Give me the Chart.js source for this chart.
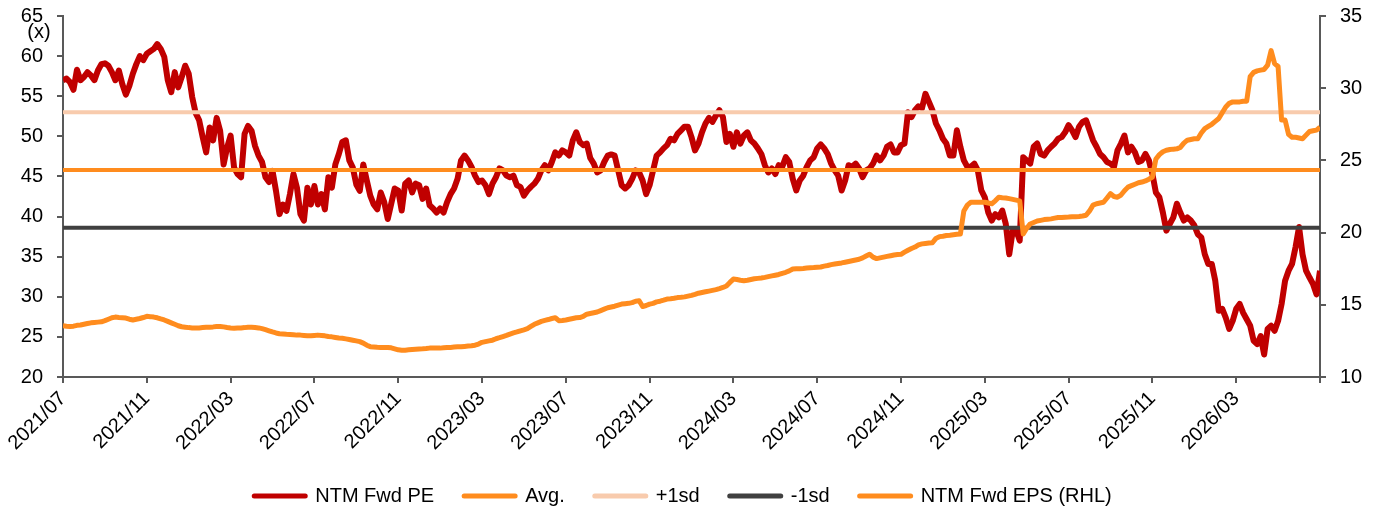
<!DOCTYPE html>
<html>
<head>
<meta charset="utf-8">
<script src="https://cdn.jsdelivr.net/npm/chart.js@4/dist/chart.umd.min.js"></script>
<style>
    html, body { margin: 0; padding: 0; background: #fff; }
    #contenedor { width: 1380px; height: 513px; position: relative; }
</style>
</head>
<body>
<div id="contenedor"><canvas id="grafico"></canvas></div>
<script>
// Eje X: meses desde 2021/07, una muestra cada 1/6 de mes
const etiquetasX = ['2021/07', '2021/11', '2022/03', '2022/07', '2022/11', '2023/03', '2023/07', '2023/11',
    '2024/03', '2024/07', '2024/11', '2025/03', '2025/07', '2025/11', '2026/03'];
const mesesTotales = 60;
const pasoMuestra = 1 / 6;

// NTM Fwd PE (eje izquierdo)
const pe = [
    57.0, 57.2, 56.75, 55.8, 58.3, 57.0, 57.4, 58.0, 57.6, 57.0,
    58.2, 59.0, 59.1, 58.8, 58.0, 57.0, 58.2, 56.5, 55.2, 56.3,
    57.8, 59.0, 60.0, 59.5, 60.3, 60.6, 60.9, 61.5, 60.9, 59.9,
    57.0, 55.5, 58.0, 56.1, 57.4, 58.8, 57.8, 54.9, 52.9, 52.0,
    49.9, 48.0, 51.1, 49.5, 52.3, 50.7, 46.5, 48.6, 50.1, 46.1,
    45.3, 44.9, 50.3, 51.3, 50.7, 48.8, 47.6, 46.8, 44.9, 44.3,
    45.7, 43.2, 40.3, 41.5, 40.7, 42.8, 45.3, 43.6, 40.3, 39.5,
    43.6, 41.5, 43.8, 41.5, 42.8, 40.9, 44.9, 43.6, 46.5, 47.8,
    49.3, 49.5, 47.0, 46.1, 44.0, 43.2, 46.5, 44.5, 42.6, 41.5,
    40.9,
    43.0, 41.8, 39.7, 41.6, 43.5, 43.25, 40.75, 44.1, 44.5, 43.0,
    44.1, 43.9, 42.2, 43.5, 41.4, 41.0, 40.5, 41.0, 40.5, 41.8,
    42.8, 43.5, 44.7, 47.0, 47.6, 47.0, 46.2, 45.1, 44.3, 44.5,
    43.9, 42.8, 44.1, 44.9, 46.0, 45.75, 45.1, 44.9, 45.1, 43.9,
    43.7, 42.6, 43.25, 43.7, 44.1, 44.7, 45.75, 46.4, 45.75, 46.8,
    48.0, 47.6, 48.25, 48.0, 47.6, 49.5, 50.5, 49.3, 48.9, 49.1,
    47.3, 46.6, 45.5, 45.75, 46.8, 47.6, 47.75, 47.6, 45.75, 43.9,
    43.5, 43.9, 44.7, 45.75, 45.5, 44.5, 42.8, 43.9, 45.75, 47.6,
    48.0, 48.5, 48.9, 49.7, 49.5, 50.3, 50.75, 51.2, 51.2, 49.9,
    48.25, 49.1, 50.5, 51.6, 52.3, 51.8, 52.6, 53.25, 52.4, 49.3,
    50.3, 48.7, 50.5, 49.1, 50.1, 50.5, 49.5, 49.1, 48.5, 47.8,
    46.4, 45.5, 46.0, 45.3, 46.4, 46.2, 47.4, 46.8, 44.7, 43.25,
    44.5, 45.1, 46.2, 47.0, 47.4, 48.5, 49.0, 48.5, 47.8, 46.6,
    45.75, 45.1, 43.25, 44.5, 46.4, 46.2, 46.6, 46.0, 44.9, 45.75,
    46.0, 46.6, 47.6, 47.0, 47.6, 48.7, 49.0, 48.0, 48.0, 48.9,
    49.1, 53.0, 52.4, 53.25, 53.75, 53.5, 55.3, 54.3, 53.25, 51.6,
    50.75, 49.7, 49.1, 47.6, 47.6, 50.75, 48.7, 47.0, 46.2, 46.2,
    46.6, 45.75, 43.25, 42.4, 40.5, 39.5, 40.3, 39.9, 40.75, 39.1,
    35.3, 38.25, 38.25, 37.0, 47.4, 47.0, 46.6, 48.7, 49.1, 47.8,
    47.6, 48.25, 48.7, 49.1, 49.7, 49.9, 50.5, 51.4, 50.75, 49.9,
    51.2, 51.8, 52.0, 50.75, 49.5, 48.7, 47.8, 47.4, 46.8, 46.6,
    46.2, 48.25, 49.1, 50.1, 48.0, 48.7, 48.0, 46.8, 47.0, 47.8,
    47.0, 45.3, 43.0, 42.4, 40.5, 38.25, 39.1, 39.9, 41.6, 40.5,
    39.5, 39.9, 39.5, 38.9, 37.8, 37.4, 35.3, 34.1, 34.1, 32.0,
    28.25, 28.5, 27.4, 26.0, 27.0, 28.5, 29.1, 28.0, 27.2, 26.4,
    24.5, 24.1, 25.1, 22.8, 26.0, 26.4, 25.75, 27.0, 29.1, 32.0,
    33.25, 34.1, 36.2, 38.7, 35.3, 33.25, 32.4, 31.6, 30.3, 33.25
];

// NTM Fwd EPS (eje derecho)
const eps = [
    13.55, 13.52, 13.5, 13.52, 13.58, 13.6, 13.65, 13.7, 13.75, 13.78,
    13.8, 13.82, 13.9, 14.0, 14.1, 14.15, 14.12, 14.1, 14.08, 14.0,
    13.95, 14.0, 14.05, 14.12, 14.2, 14.18, 14.15, 14.1, 14.02, 13.95,
    13.85, 13.75, 13.65, 13.55, 13.48, 13.45, 13.42, 13.4, 13.4, 13.4,
    13.42, 13.44, 13.45, 13.47, 13.5, 13.5, 13.47, 13.43, 13.4, 13.38,
    13.4, 13.4, 13.42, 13.45, 13.45, 13.43, 13.4, 13.35, 13.28, 13.2,
    13.12, 13.05, 13.0, 12.98, 12.96, 12.95, 12.93, 12.9, 12.9, 12.88,
    12.86, 12.85, 12.88, 12.9, 12.88, 12.85, 12.8, 12.78, 12.74, 12.7,
    12.68, 12.64, 12.6, 12.55, 12.5, 12.45, 12.35, 12.2, 12.1, 12.08,
    12.06, 12.05, 12.05, 12.05, 12.02, 11.95, 11.88, 11.85, 11.86, 11.88,
    11.9, 11.92, 11.94, 11.95, 11.97, 12.0, 12.0, 12.0, 12.0, 12.02,
    12.04, 12.05, 12.07, 12.09, 12.1, 12.12, 12.14, 12.16, 12.2, 12.28,
    12.4, 12.45, 12.5, 12.55, 12.65, 12.72, 12.8, 12.88, 12.97, 13.05,
    13.12, 13.2, 13.27, 13.35, 13.5, 13.65, 13.75, 13.85, 13.92, 13.98,
    14.05, 14.1, 13.9, 13.92, 13.95, 14.0, 14.05, 14.1, 14.12, 14.2,
    14.35, 14.4, 14.45, 14.5, 14.6, 14.7, 14.8, 14.85, 14.9, 14.98,
    15.05, 15.08, 15.1, 15.15, 15.25, 15.28, 14.88, 14.95, 15.05, 15.1,
    15.2, 15.25, 15.32, 15.4, 15.42, 15.45, 15.5, 15.52, 15.55, 15.6,
    15.65, 15.72, 15.8, 15.85, 15.9, 15.95, 16.0, 16.05, 16.12, 16.2,
    16.3, 16.55, 16.78, 16.75, 16.7, 16.67, 16.7, 16.75, 16.8, 16.83,
    16.86, 16.9, 16.95, 17.0, 17.05, 17.1, 17.18, 17.25, 17.35, 17.48,
    17.5, 17.5, 17.52, 17.55, 17.57, 17.58, 17.6, 17.62, 17.68, 17.72,
    17.78, 17.82, 17.86, 17.9, 17.95, 18.0, 18.05, 18.1, 18.15, 18.25,
    18.38, 18.5, 18.3, 18.2, 18.25, 18.3, 18.35, 18.4, 18.45, 18.48,
    18.5, 18.65, 18.78, 18.9, 19.0, 19.15, 19.22, 19.25, 19.28, 19.3,
    19.6, 19.72, 19.75, 19.8, 19.82, 19.85, 19.88, 19.9, 21.5, 21.9,
    22.1, 22.1, 22.1, 22.1, 22.1, 22.05, 22.0, 22.2, 22.45, 22.42,
    22.4, 22.35, 22.3, 22.25, 22.2, 19.9, 20.3, 20.6, 20.7, 20.8,
    20.85, 20.9, 20.93, 20.95, 21.0, 21.05, 21.05, 21.07, 21.08, 21.1,
    21.1, 21.12, 21.15, 21.2, 21.5, 21.9, 22.0, 22.05, 22.1, 22.4,
    22.7, 22.5, 22.45, 22.6, 22.9, 23.15, 23.25, 23.35, 23.45, 23.5,
    23.58, 23.7, 23.85, 25.1, 25.4, 25.6, 25.7, 25.75, 25.78, 25.8,
    25.9, 26.2, 26.4, 26.45, 26.5, 26.5, 26.9, 27.2, 27.35, 27.5,
    27.7, 27.9, 28.3, 28.7, 28.95, 29.05, 29.05, 29.05, 29.1, 29.1,
    30.8, 31.1, 31.2, 31.25, 31.3, 31.6, 32.6, 31.7, 31.5, 27.8,
    27.8, 26.8, 26.6, 26.6, 26.55, 26.5, 26.75, 27.0, 27.05, 27.1, 27.3
];

// Lineas de referencia del PE
const promedio = 45.8;
const masUnaSd = 53.0;
const menosUnaSd = 38.6;
const unidadEje = '(x)';

Chart.defaults.font.family = '"Liberation Sans", Arial, sans-serif';
Chart.defaults.font.size = 20;
Chart.defaults.color = '#000';

const aPuntos = serie => serie.map((v, i) => ({ x: i * pasoMuestra, y: v }));
const lineaPlana = v => [{ x: 0, y: v }, { x: mesesTotales, y: v }];

const colorEje = '#595959';

const ejeBase = {
    border: { color: colorEje, width: 2 },
    grid: { drawOnChartArea: false, drawTicks: true, tickLength: 6, color: colorEje, lineWidth: 2 }
};

// los ejes Y no reservan margen extra arriba/abajo para sus etiquetas
function ajustarEjeY(ancho) {
    return s => {
        s.width = ancho;
        s.paddingTop = 0;
        s.paddingBottom = 0;
    };
}

const pluginUnidad = {
    id: 'unidad',
    afterDraw(chart) {
        const c = chart.ctx;
        const area = chart.chartArea;
        c.save();
        c.font = '20px "Liberation Sans", Arial, sans-serif';
        c.fillStyle = '#000';
        c.textAlign = 'center';
        c.textBaseline = 'middle';
        c.fillText(unidadEje, area.left - 24, area.top + 16);
        c.restore();
    }
};

new Chart(document.getElementById('grafico'), {
    type: 'line',
    data: {
        datasets: [
            { label: 'NTM Fwd PE', data: aPuntos(pe), borderColor: '#C00000', borderWidth: 6, yAxisID: 'y', order: 5 },
            { label: 'Avg.', data: lineaPlana(promedio), borderColor: '#FF8C1E', borderWidth: 4, yAxisID: 'y', order: 4 },
            { label: '+1sd', data: lineaPlana(masUnaSd), borderColor: '#F8CBAD', borderWidth: 4, yAxisID: 'y', order: 3 },
            { label: '-1sd', data: lineaPlana(menosUnaSd), borderColor: '#404040', borderWidth: 4, yAxisID: 'y', order: 2 },
            { label: 'NTM Fwd EPS (RHL)', data: aPuntos(eps), borderColor: '#FF8C1E', borderWidth: 5, yAxisID: 'y2', order: 1 }
        ]
    },
    options: {
        responsive: true,
        maintainAspectRatio: false,
        animation: false,
        layout: { padding: { top: 16, right: 14, left: 0, bottom: -3 } },
        elements: {
            point: { radius: 0 },
            line: { tension: 0, borderJoinStyle: 'round', fill: false }
        },
        scales: {
            x: {
                ...ejeBase,
                type: 'linear',
                min: 0,
                max: mesesTotales,
                ticks: {
                    stepSize: 4, autoSkip: false, minRotation: 45, maxRotation: 45, padding: 4,
                    callback: v => etiquetasX[v / 4] ?? ''
                },
                afterFit: s => { s.height = 79; }
            },
            y: {
                ...ejeBase,
                position: 'left',
                min: 20, max: 65,
                ticks: { stepSize: 5, padding: 14 },
                afterFit: ajustarEjeY(63)
            },
            y2: {
                ...ejeBase,
                position: 'right',
                min: 10, max: 35,
                ticks: { stepSize: 5, padding: 14 },
                afterFit: ajustarEjeY(46)
            }
        },
        plugins: {
            tooltip: { enabled: false },
            legend: {
                position: 'bottom',
                labels: {
                    usePointStyle: true,
                    pointStyleWidth: 51,
                    padding: 30,
                    color: '#000',
                    sort: (a, b) => a.datasetIndex - b.datasetIndex,
                    generateLabels: chart => Chart.defaults.plugins.legend.labels.generateLabels(chart)
                        .map(l => ({ ...l, pointStyle: 'line', lineWidth: 5, lineCap: 'round' }))
                }
            }
        }
    },
    plugins: [pluginUnidad]
});
</script>
</body>
</html>
